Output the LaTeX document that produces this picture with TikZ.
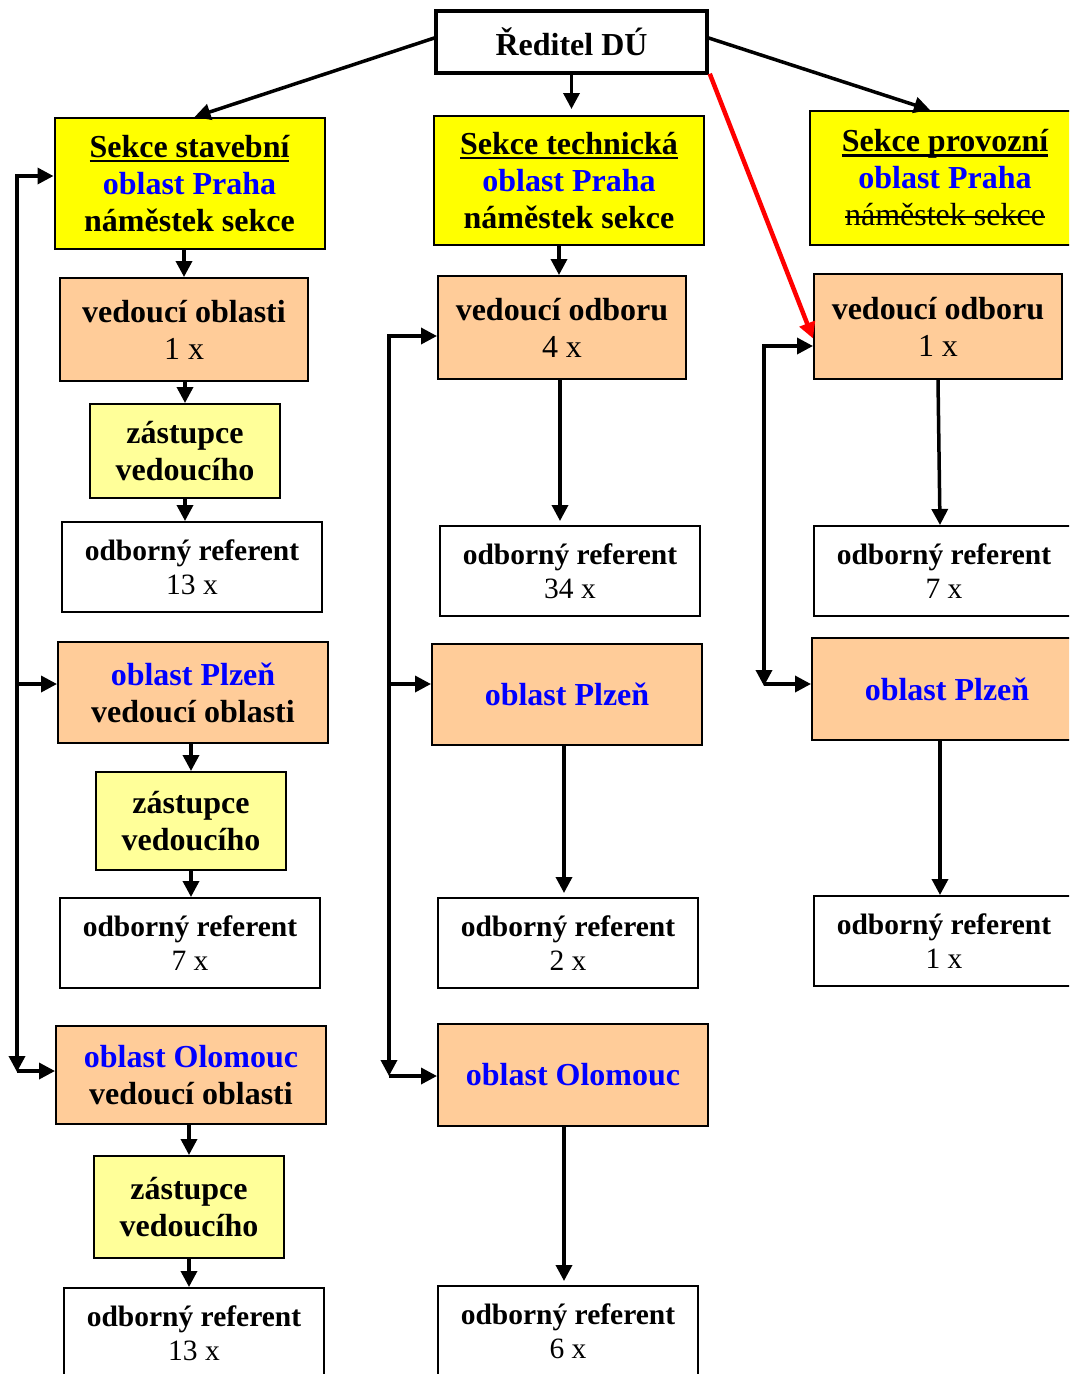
\documentclass[tikz,border=0pt]{standalone}
\usepackage{fontspec}
\setmainfont{Liberation Serif}
\usepackage{tikz}
\usetikzlibrary{arrows.meta, positioning, calc}
\definecolor{sekceyellow}{HTML}{FFFF00}
\definecolor{vedorange}{HTML}{FFCC99}
\definecolor{zasyellow}{HTML}{FFFF99}
\definecolor{oblblue}{HTML}{0000FF}

\newsavebox{\linebox}
\newcommand{\podtrh}[1]{\sbox{\linebox}{#1}\rlap{\rule[-5pt]{\wd\linebox}{2.5pt}}\usebox{\linebox}}
\newcommand{\skrt}[1]{\sbox{\linebox}{#1}\rlap{\rule[8pt]{\wd\linebox}{2pt}}\usebox{\linebox}}

\tikzset{
  box/.style={draw, line width=2pt, rectangle, align=center, inner sep=0pt,
    font=\bfseries\fontsize{32}{37}\selectfont},
  sekce/.style={box, fill=sekceyellow, minimum width=270pt, minimum height=131pt},
  vedouci/.style={box, fill=vedorange, minimum width=248pt, minimum height=104pt},
  zastupce/.style={box, fill=zasyellow, minimum width=190pt, minimum height=96pt},
  referent/.style={box, fill=white, minimum width=260pt, minimum height=90pt,
    font=\bfseries\fontsize{29.5}{34}\selectfont},
  oblast/.style={box, fill=vedorange, minimum width=270pt, minimum height=101pt},
  arr/.style={-{Triangle[length=16pt,width=16pt]}, line width=3.5pt},
  arrboth/.style={{Triangle[length=16pt,width=16pt]}-{Triangle[length=16pt,width=16pt]}, line width=3.5pt},
}
\newcommand{\obl}[1]{\textcolor{oblblue}{#1}}
\newcommand{\pocet}[1]{{\mdseries #1}}

\begin{document}
\begin{tikzpicture}[x=1pt, y=-1pt]
\useasboundingbox (0,0) rectangle (1069,1374);
\clip (0,0) rectangle (1069,1374);

% director
\node[box, line width=3.5pt, fill=white, minimum width=271pt, minimum height=62pt] (dir) at (571.5,42) {Ředitel DÚ};

% left column - sekce stavebni
\node[sekce] (stav) at (189.5,183.5) {\podtrh{Sekce stavební}\\ \obl{oblast Praha}\\ náměstek sekce};
\node[vedouci, minimum height=103pt] (stavved) at (184,329.5) {vedoucí oblasti\\ \pocet{1 x}};
\node[zastupce, minimum height=94pt] (stavzas) at (185,451) {zástupce\\ vedoucího};
\node[referent] (stavref) at (192,567) {odborný referent\\ \pocet{13 x}};
\node[oblast] (stavplz) at (193,692.5) {\obl{oblast Plzeň}\\ vedoucí oblasti};
\node[zastupce, minimum height=98pt] (stavplzzas) at (191,821) {zástupce\\ vedoucího};
\node[referent] (stavplzref) at (190,943) {odborný referent\\ \pocet{7 x}};
\node[oblast, minimum height=98pt] (stavolo) at (191,1075) {\obl{oblast Olomouc}\\ vedoucí oblasti};
\node[zastupce, minimum height=102pt] (stavolozas) at (189,1207) {zástupce\\ vedoucího};
\node[referent] (stavoloref) at (194,1333) {odborný referent\\ \pocet{13 x}};

% middle column - sekce technicka
\node[sekce, minimum height=129pt] (tech) at (569,180.5) {\podtrh{Sekce technická}\\ \obl{oblast Praha}\\ náměstek sekce};
\node[vedouci, minimum height=103pt] (techved) at (562,327.5) {vedoucí odboru\\ \pocet{4 x}};
\node[referent] (techref) at (570,571) {odborný referent\\ \pocet{34 x}};
\node[oblast] (techplz) at (567,694.5) {\obl{oblast Plzeň}};
\node[referent] (techplzref) at (568,943) {odborný referent\\ \pocet{2 x}};
\node[oblast, minimum height=102pt] (techolo) at (573,1075) {\obl{oblast Olomouc}};
\node[referent] (techoloref) at (568,1331) {odborný referent\\ \pocet{6 x}};

% right column - sekce provozni
\node[sekce, minimum height=134pt] (prov) at (945,178) {\podtrh{Sekce provozní}\\ \obl{oblast Praha}\\ {\mdseries\skrt{náměstek sekce}}};
\node[vedouci, minimum height=105pt] (provved) at (938,326.5) {vedoucí odboru\\ \pocet{1 x}};
\node[referent] (provref) at (944,571) {odborný referent\\ \pocet{7 x}};
\node[oblast, minimum height=102pt] (provplz) at (947,689) {\obl{oblast Plzeň}};
\node[referent] (provplzref) at (944,941) {odborný referent\\ \pocet{1 x}};

% from director
\draw[arr] ([yshift=4pt]dir.west) -- ([xshift=5pt]stav.north);
\draw[arr, shorten >=6pt] (dir.south) -- (dir.south |- tech.north);
\draw[arr] ([yshift=4pt]dir.east) -- ([xshift=-15pt]prov.north);
\draw[arr, red, line width=4.5pt] ([xshift=1pt,yshift=1pt]dir.south east) -- ([yshift=-12pt]provved.west);

% left column arrows
\draw[arr] (stav.south -| stavved) -- (stavved.north);
\draw[arr] (stavved.south -| stavzas) -- (stavzas.north);
\draw[arr] (stavzas.south) -- (stavzas.south |- stavref.north);
\draw[arr] (stavplz.south -| stavplzzas) -- (stavplzzas.north);
\draw[arr] (stavplzzas.south) -- (stavplzzas.south |- stavplzref.north);
\draw[arr] (stavolo.south -| stavolozas) -- (stavolozas.north);
\draw[arr] (stavolozas.south) -- (stavolozas.south |- stavoloref.north);

% middle column arrows
\draw[arr] (tech.south -| 559,0) -- (techved.north -| 559,0);
\draw[arr, shorten >=4pt] (techved.south -| 560,0) -- (techref.north -| 560,0);
\draw[arr, shorten >=4pt] (techplz.south -| 564,0) -- (techplzref.north -| 564,0);
\draw[arr, shorten >=4pt] (techolo.south -| 564,0) -- (techoloref.north -| 564,0);

% right column arrows
\draw[arr] (provved.south) -- ([xshift=-4pt]provref.north);
\draw[arr] (provplz.south -| 940,0) -- (provplzref.north -| 940,0);

% left bus
\coordinate (lbtop) at (17,176);
\coordinate (lbbot) at (17,1072);
\draw[arrboth] (lbtop -| stav.west) -- (lbtop) -- (lbbot);
\draw[arr] (17,684) -- (stavplz.west |- 0,684);
\draw[arr] (17,1071) -- (stavolo.west |- 0,1071);

% middle bus
\coordinate (mbtop) at (389,336);
\coordinate (mbbot) at (389,1076);
\draw[arrboth] (mbtop -| techved.west) -- (mbtop) -- (mbbot);
\draw[arr] (389,684) -- (techplz.west |- 0,684);
\draw[arr] (mbbot) -- (techolo.west |- mbbot);

% right bus
\coordinate (rbtop) at (764,346);
\coordinate (rbbot) at (764,686);
\draw[arrboth] (rbtop -| provved.west) -- (rbtop) -- (rbbot);
\draw[arr] (764,684) -- (provplz.west |- 0,684);
\end{tikzpicture}
\end{document}
